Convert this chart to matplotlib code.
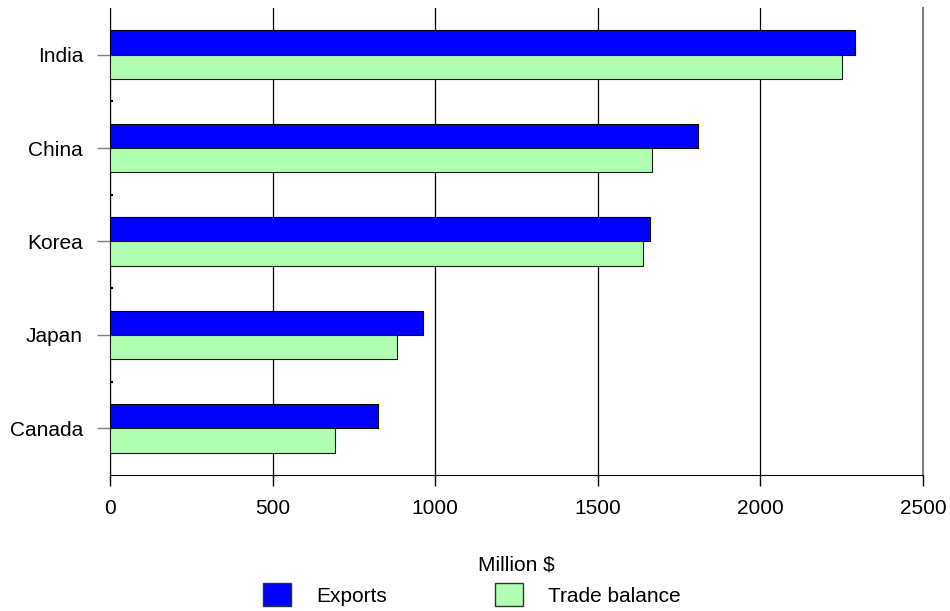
import numpy as np
import matplotlib.pyplot as plt
from matplotlib.patches import Patch

# Data (million $)
countries = ['India', 'China', 'Korea', 'Japan', 'Canada']
exports = [2290, 1808, 1660, 963, 825]
trade_balance = [2250, 1666, 1640, 884, 692]
x_ticks = [0, 500, 1000, 1500, 2000, 2500]

plt.rcParams['font.family'] = ['Liberation Sans', 'DejaVu Sans']
FS = 15

fig = plt.figure(figsize=(9.5, 6.11), dpi=100)
ax = fig.add_axes([0.1158, 0.2226, 0.9716 - 0.1158, 0.9869 - 0.2226])

# categories top to bottom
y = np.arange(len(countries))[::-1]
bar_h = 0.26

ax.barh(y + bar_h / 2, exports, height=bar_h, color='#0000FF',
        edgecolor='#000000', linewidth=0.8, zorder=3, label='Exports')
ax.barh(y - bar_h / 2, trade_balance, height=bar_h, color='#B0FFB0',
        edgecolor='#1a1a1a', linewidth=0.8, zorder=3, label='Trade balance')

ax.set_xlim(0, 2500)
ax.set_ylim(-0.5, len(countries) - 0.5)
ax.set_xticks(x_ticks)
ax.set_xticklabels([str(v) for v in x_ticks], fontsize=FS)
ax.set_yticks(y)
ax.set_yticklabels(countries, fontsize=FS)
ax.set_yticks(np.arange(len(countries) - 1) + 0.5, minor=True)

ax.tick_params(axis='y', which='major', length=9.4, width=1, color='#808080', pad=10)
ax.tick_params(axis='y', which='minor', length=2, width=1.5, direction='in', color='black')
ax.tick_params(axis='x', which='major', length=8, width=1, color='black', pad=9)

ax.grid(axis='x', color='black', linewidth=0.9, zorder=0)
ax.spines['top'].set_visible(False)
ax.spines['right'].set_color('#808080')
ax.spines['right'].set_linewidth(1.5)
ax.spines['left'].set_color('black')
ax.spines['bottom'].set_color('black')

ax.set_xlabel('Million $', fontsize=FS, labelpad=27)

handles = [Patch(facecolor='#0000FF', edgecolor='#333333', label='Exports'),
           Patch(facecolor='#B0FFB0', edgecolor='#333333', label='Trade balance')]
fig.legend(handles=handles, loc='upper left', bbox_to_anchor=(263 / 950, 1 - 583 / 611),
           ncol=2, frameon=False, fontsize=FS, borderpad=0, borderaxespad=0,
           handlelength=1.35, handleheight=1.35, handletextpad=1.2, columnspacing=5.2)

fig.savefig('out.png', dpi=100)
